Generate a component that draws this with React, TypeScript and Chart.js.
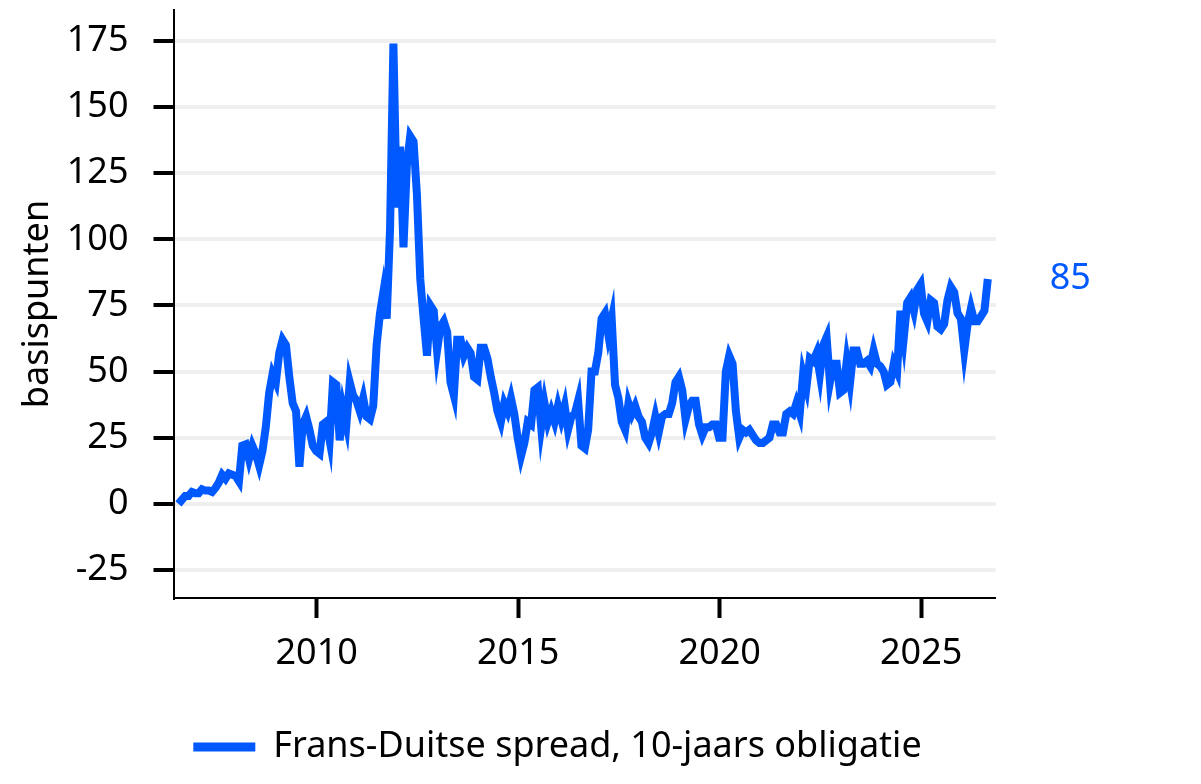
import { useEffect, useRef } from 'react';
import { Chart, registerables } from 'chart.js';

Chart.register(...registerables);

const BLUE = '#0059ff';
const FONT = '"Noto Sans", sans-serif';

const seriesLabel = 'Frans-Duitse spread, 10-jaars obligatie';
const yTitle = 'basispunten';
const xTickYears = [2010, 2015, 2020, 2025];
const yTickValues = [-25, 0, 25, 50, 75, 100, 125, 150, 175];
const lastValueLabel = [85];

// first observation (decimal year), one value per month after that
const firstMonth = 2006.57;

// spread in basispunten, monthly
const spread = [
  // 2006-2007
  0, 1.5, 3, 3, 4.5, 4, 4, 5.5, 5, 5, 4.5, 6,
  8, 11, 9.5, 11.5, 11, 10.5, 8.5, 22, 22.5, 17, 22, 19,
  // 2008-2009
  14.5, 20, 29, 42, 49, 46, 57, 62, 60, 48, 38, 35,
  14, 30, 33, 28, 22, 20, 19, 30, 31, 24, 46, 45,
  // 2010-2011
  24, 36, 30, 46, 41, 39, 35, 40, 33, 32, 37, 60,
  72, 80, 70, 104, 174, 112, 135, 97, 128, 139, 137, 117,
  // 2012-2013
  85, 70, 56, 75, 73, 58, 67, 69, 65, 46, 41, 62,
  62, 56, 59, 57, 48, 47, 59, 59, 55, 48, 42, 35,
  // 2014-2015
  31, 38, 35, 40, 34, 25, 18, 23, 31, 30, 43, 44,
  29, 38, 31, 35, 31, 37, 32, 37, 28, 33, 34, 39,
  // 2016-2017
  22, 21, 28, 50, 50, 57, 70, 72, 64, 70, 45, 40,
  31, 28, 38, 34, 37, 33, 31, 25, 23, 27, 33, 27,
  // 2018-2019
  33, 34, 34, 38, 46, 48, 43, 32, 37, 39, 39, 30,
  26, 29, 29, 30, 30, 25, 25, 50, 56, 53, 35, 25,
  // 2020-2021
  28, 27, 28, 26, 24, 23, 23, 24, 25, 30, 30, 27,
  27, 34, 35, 34, 38, 34, 49, 44, 55, 54, 57, 49,
  // 2022-2023
  60, 63, 46, 53, 53, 42, 43, 54, 46, 58, 58, 53,
  53, 54, 52, 58, 53, 52, 50, 45, 46, 53, 50, 73,
  // 2024-2026
  63, 76, 78, 73, 81, 83, 72, 69, 77, 76, 67, 66,
  68, 77, 82, 80, 72, 70, 58, 68, 74, 69, 69, 71,
  73, 85,
];

const noPadding = (scale: any) => {
  scale.paddingTop = 0;
  scale.paddingBottom = 0;
  scale.paddingLeft = 0;
  scale.paddingRight = 0;
};

const SpreadChart = () => {
  const chartRef = useRef<HTMLCanvasElement | null>(null);

  useEffect(() => {
    const ctx = chartRef.current?.getContext('2d');
    if (!ctx) return;

    const points = spread.map((v, i) => ({ x: firstMonth + i / 12, y: v }));

    const myChart = new Chart(ctx, {
      type: 'line',
      data: {
        datasets: [
          {
            label: seriesLabel,
            data: points,
            borderColor: BLUE,
            backgroundColor: BLUE,
            borderWidth: 8,
            pointRadius: 0,
            tension: 0,
            yAxisID: 'y',
          },
        ],
      },
      options: {
        animation: false,
        responsive: true,
        maintainAspectRatio: false,
        layout: { padding: { top: 2, left: 0, right: 86, bottom: 1 } },
        plugins: {
          tooltip: { enabled: false },
          legend: {
            position: 'bottom',
            labels: {
              color: '#000',
              font: { family: FONT, size: 36 },
              boxWidth: 62,
              boxHeight: 9,
              padding: 10,
              generateLabels: (chart: any) =>
                Chart.defaults.plugins.legend.labels
                  .generateLabels(chart)
                  .map((l: any) => ({ ...l, lineWidth: 0, fillStyle: BLUE })),
            },
          },
        },
        scales: {
          x: {
            type: 'linear',
            position: 'bottom',
            min: 2006.446,
            max: 2026.85,
            afterBuildTicks: (scale: any) => {
              scale.ticks = xTickYears.map((v) => ({ value: v }));
            },
            afterFit: (scale: any) => {
              scale.height = 121;
              noPadding(scale);
            },
            grid: {
              drawOnChartArea: false,
              drawTicks: true,
              tickLength: 20,
              tickColor: '#000',
              tickWidth: 4,
            },
            border: { color: '#000', width: 2 },
            ticks: {
              color: '#000',
              font: { family: FONT, size: 36 },
              padding: 14,
              maxRotation: 0,
              callback: (v: any) => String(v),
            },
          },
          y: {
            type: 'linear',
            position: 'left',
            min: -35.6,
            max: 186.7,
            afterBuildTicks: (scale: any) => {
              scale.ticks = yTickValues.map((v) => ({ value: v }));
            },
            afterFit: (scale: any) => {
              scale.width = 165.5;
              noPadding(scale);
            },
            grid: {
              color: '#efefef',
              lineWidth: 4,
              drawTicks: true,
              tickLength: 20,
              tickColor: '#000',
              tickWidth: 4,
            },
            border: { color: '#000', width: 2 },
            ticks: {
              color: '#000',
              font: { family: FONT, size: 36 },
              padding: 25,
              callback: (v: any) => String(v),
            },
            title: {
              display: true,
              text: yTitle,
              color: '#000',
              font: { family: FONT, size: 36 },
              padding: { top: 8, bottom: 0 },
            },
          },
          y2: {
            type: 'linear',
            position: 'right',
            min: -35.6,
            max: 186.7,
            afterBuildTicks: (scale: any) => {
              scale.ticks = lastValueLabel.map((v) => ({ value: v }));
            },
            afterFit: (scale: any) => {
              scale.width = 111.3;
              noPadding(scale);
            },
            grid: { display: false, drawTicks: false },
            border: { display: false },
            ticks: {
              color: BLUE,
              font: { family: FONT, size: 36 },
              padding: 54,
              callback: (v: any) => String(v),
            },
          },
        },
      },
    } as any);

    return () => {
      myChart.destroy();
    };
  }, []);

  return (
    <div style={{ position: 'relative', width: '1185px', height: '768px' }}>
      <canvas ref={chartRef} />
    </div>
  );
};

export default function App() {
  return <SpreadChart />;
}
